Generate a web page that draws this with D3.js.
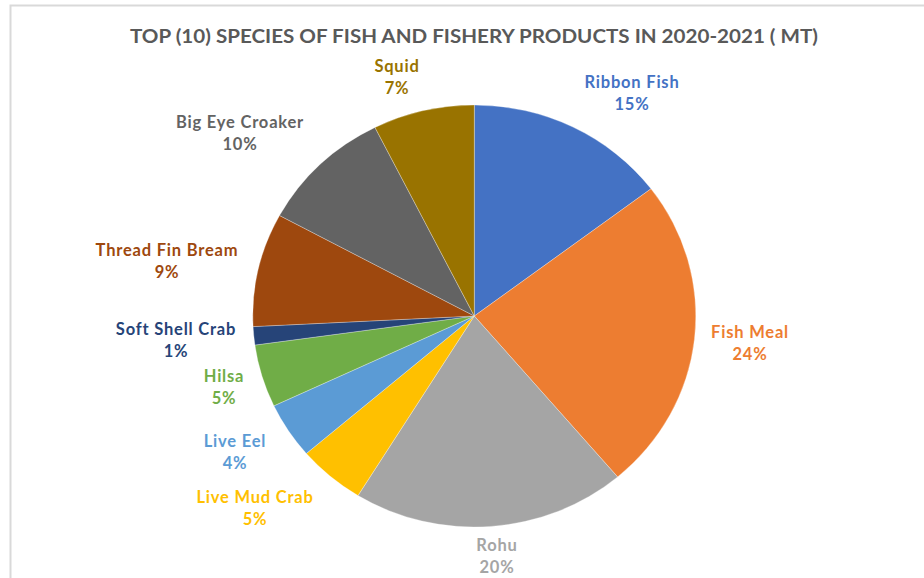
<!DOCTYPE html>
<html>
<head>
<meta charset="utf-8">
<script src="https://cdn.jsdelivr.net/npm/d3@7"></script>
<style>
html,body{margin:0;padding:0;background:#fff;}
svg{display:block;}
</style>
</head>
<body>
<svg id="chart" width="924" height="578"></svg>
<script>
const categories = ["Ribbon Fish","Fish Meal","Rohu","Live Mud Crab","Live Eel","Hilsa","Soft Shell Crab","Thread Fin Bream","Big Eye Croaker","Squid"];
const values = [14700, 24100, 20000, 4900, 4300, 4800, 1400, 8700, 9700, 7400];
const colors = ["#4472C4","#ED7D31","#A5A5A5","#FFC000","#5B9BD5","#70AD47","#264478","#9E480E","#636363","#997300"];
const title = "TOP (10) SPECIES OF FISH AND FISHERY PRODUCTS IN 2020-2021 ( MT)";

const svg = d3.select("#chart");
const W = 924, H = 578;
const cx = 474.3, cy = 316, rx = 221.5, ry = 211;

// frame
svg.append("path").attr("d", `M10.5,${H+2} L10.5,5.5 L${W+2},5.5`)
  .attr("fill","none").attr("stroke","#d9d9d9").attr("stroke-width",2);

svg.append("text").attr("x", 474).attr("y", 43)
  .attr("text-anchor","middle")
  .attr("font-family","Lato, 'Open Sans', sans-serif").attr("font-weight","bold")
  .attr("font-size", 19.5).attr("fill","#595959")
  .attr("textLength", 688).attr("lengthAdjust","spacingAndGlyphs")
  .text(title);

const data = categories.map((c,i)=>({name:c, value:values[i], color:colors[i]}));
const pie = d3.pie().sort(null).value(d=>d.value);
const arcs = pie(data);
const total = d3.sum(values);
const arc = d3.arc().innerRadius(0).outerRadius(rx);

const g = svg.append("g").attr("transform", `translate(${cx},${cy}) scale(1,${ry/rx})`);
g.selectAll("path").data(arcs).join("path")
  .attr("d", arc).attr("fill", d=>d.data.color)
  .attr("stroke","#ffffff").attr("stroke-width",0.6).attr("stroke-opacity",0.5);

// label positions (label centers)
const labelPos = {
  "Squid":[397,66],
  "Ribbon Fish":[632,82],
  "Big Eye Croaker":[240,122],
  "Thread Fin Bream":[167,250],
  "Soft Shell Crab":[176,329],
  "Hilsa":[224,376],
  "Live Eel":[235,441],
  "Live Mud Crab":[255,497],
  "Rohu":[497,545],
  "Fish Meal":[750,332]
};
const lg = svg.append("g").attr("font-family","Lato, 'Open Sans', sans-serif")
  .attr("font-weight","bold").attr("font-size",16.5).attr("letter-spacing","0.8px")
  .attr("text-anchor","middle");
arcs.forEach(a=>{
  const p = labelPos[a.data.name];
  const t = lg.append("text").attr("fill", a.data.color).attr("x",p[0]).attr("y",p[1]+6);
  t.append("tspan").attr("x",p[0]).text(a.data.name);
  t.append("tspan").attr("x",p[0]).attr("dy",22).text(Math.round(a.data.value/total*100)+"%");
});
</script>
</body>
</html>
